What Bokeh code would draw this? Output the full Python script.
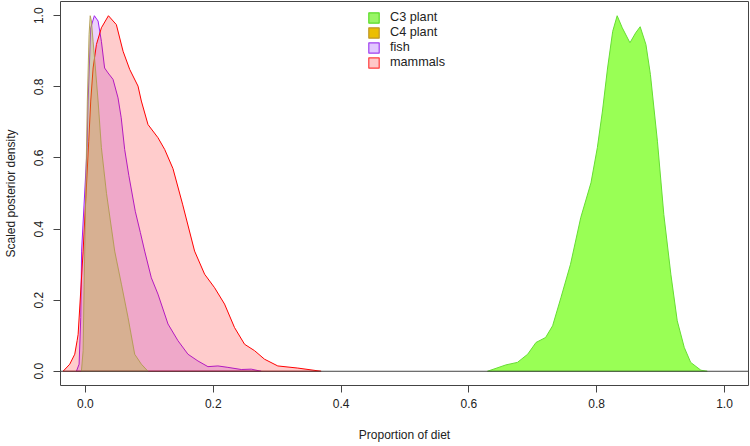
import numpy as np
from bokeh.plotting import figure
from bokeh.models import (Legend, LegendItem, FixedTicker, PrintfTickFormatter,
                          Span)
from bokeh.embed import file_html
from bokeh.resources import INLINE

# ---- data ----
c3_x = [0.629, 0.658, 0.676, 0.692, 0.705, 0.720, 0.731, 0.744, 0.759, 0.775,
        0.791, 0.801, 0.809, 0.817, 0.825, 0.832, 0.840, 0.852, 0.861, 0.868,
        0.877, 0.884, 0.895, 0.905, 0.916, 0.926, 0.937, 0.947, 0.963, 0.973]
c3_y = [0.0, 0.018, 0.025, 0.048, 0.081, 0.095, 0.128, 0.207, 0.301, 0.432,
        0.530, 0.629, 0.732, 0.853, 0.956, 1.0, 0.966, 0.924, 0.952, 0.969,
        0.919, 0.835, 0.647, 0.441, 0.273, 0.142, 0.067, 0.025, 0.003, 0.0]

c4_x = [-0.0063, -0.0036, -0.002, 0.003, 0.0057, 0.0075, 0.0094, 0.012, 0.0156,
        0.0198, 0.025, 0.033, 0.0458, 0.0563, 0.0667, 0.0771, 0.0875, 0.0979]
c4_y = [0.0, 0.058, 0.245, 0.76, 0.947, 1.0, 0.985, 0.928, 0.853,
        0.76, 0.629, 0.5, 0.338, 0.245, 0.151, 0.048, 0.020, 0.0]

fish_x = [-0.0141, -0.0099, -0.0073, -0.006, 0.0026, 0.0042, 0.0083, 0.0140,
          0.0198, 0.025, 0.030, 0.0354, 0.0432, 0.051, 0.056, 0.0614, 0.068,
          0.078, 0.086, 0.0927, 0.1031, 0.1135, 0.1292, 0.1448, 0.1604, 0.176,
          0.1917, 0.2073, 0.2229, 0.2438, 0.2594, 0.275]
fish_y = [0.0, 0.020, 0.151, 0.338, 0.629, 0.76, 0.966, 1.0,
          0.985, 0.928, 0.853, 0.839, 0.821, 0.769, 0.713, 0.624, 0.55,
          0.45, 0.39, 0.338, 0.263, 0.217, 0.133, 0.086, 0.048, 0.029,
          0.013, 0.015, 0.011, 0.005, 0.006, 0.0]

mam_x = [-0.035, -0.0245, -0.0167, -0.013, -0.0114, -0.0036, 0.0052, 0.0083,
         0.012, 0.0172, 0.025, 0.036, 0.0484, 0.0589, 0.0693, 0.0823, 0.0875,
         0.0979, 0.1135, 0.124, 0.137, 0.152, 0.1708, 0.1865, 0.2021, 0.2177,
         0.2333, 0.249, 0.2646, 0.2802, 0.301, 0.3323, 0.3688]
mam_y = [0.0, 0.020, 0.048, 0.086, 0.104, 0.338, 0.647, 0.760,
         0.853, 0.919, 0.966, 1.0, 0.975, 0.900, 0.849, 0.802, 0.760,
         0.694, 0.657, 0.624, 0.57, 0.47, 0.338, 0.273, 0.235, 0.189,
         0.123, 0.076, 0.058, 0.034, 0.015, 0.009, 0.0]

labels = ["C3 plant", "C4 plant", "fish", "mammals"]
x_ticks = [0.0, 0.2, 0.4, 0.6, 0.8, 1.0]
y_ticks = [0.0, 0.2, 0.4, 0.6, 0.8, 1.0]

FONT = "Liberation Sans"
AX = "#444444"

p = figure(width=750, height=446, x_range=(-0.039, 1.0375), y_range=(-0.04, 1.04),
           output_backend="svg", toolbar_location=None,
           min_border_left=59, min_border_right=2, min_border_top=1,
           min_border_bottom=61)
p.background_fill_color = "white"
p.border_fill_color = "white"
p.grid.visible = False
p.outline_line_color = AX
p.outline_line_width = 1

p.patch(c3_x, c3_y, fill_color="#99FF55", line_color="#66DD33", line_width=1)
p.patch(fish_x, fish_y, fill_color="#A020F0", fill_alpha=0.2,
        line_color="#A020F0", line_width=1)
p.patch(mam_x, mam_y, fill_color="#FF0000", fill_alpha=0.2,
        line_color="#FF0000", line_width=1)
p.patch(c4_x, c4_y, fill_color="#ABBF2A", fill_alpha=0.35,
        line_color="#B09A50", line_alpha=0.9, line_width=1)

p.add_layout(Span(location=0, dimension="width", line_color=AX, line_width=1))

# legend swatches (renderers with no visible data, only used by the legend)
leg_fill = ["#99F566", "#EBBE00", "#E1C8FF", "#FFC8C8"]
leg_line = ["#5ADC28", "#BE9628", "#A040F0", "#FF3C3C"]
items = []
for lab, fc, lc in zip(labels, leg_fill, leg_line):
    r = p.patch(x=[np.nan, np.nan, np.nan], y=[np.nan, np.nan, np.nan],
                fill_color=fc, line_color=lc, line_width=1.2)
    items.append(LegendItem(label=lab, renderers=[r]))
legend = Legend(items=items, location=(307, 316), border_line_color=None,
                background_fill_alpha=0, padding=0, margin=0, spacing=1,
                glyph_width=13, glyph_height=13, label_height=13,
                label_standoff=10, label_text_font_size="12.7px",
                label_text_font=FONT, label_text_color="#222222")
p.add_layout(legend)

for ax in (p.xaxis[0], p.yaxis[0]):
    ax.axis_line_color = None
    ax.major_tick_line_color = AX
    ax.major_tick_out = 7
    ax.major_tick_in = 0
    ax.minor_tick_line_color = None
    ax.major_label_text_font = FONT
    ax.major_label_text_font_size = "12px"
    ax.major_label_text_color = "#222222"
    ax.axis_label_text_font = FONT
    ax.axis_label_text_font_size = "12px"
    ax.axis_label_text_font_style = "normal"
    ax.axis_label_text_color = "#222222"
    ax.formatter = PrintfTickFormatter(format="%.1f")

p.xaxis[0].ticker = FixedTicker(ticks=x_ticks)
p.yaxis[0].ticker = FixedTicker(ticks=y_ticks)
p.xaxis[0].axis_label = "Proportion of diet"
p.yaxis[0].axis_label = "Scaled posterior density"
p.xaxis[0].major_label_standoff = 6
p.xaxis[0].axis_label_standoff = 17
p.yaxis[0].major_label_orientation = "vertical"
p.yaxis[0].major_label_standoff = 10
p.yaxis[0].axis_label_standoff = 14

open("out.html", "w").write(file_html(p, INLINE))
